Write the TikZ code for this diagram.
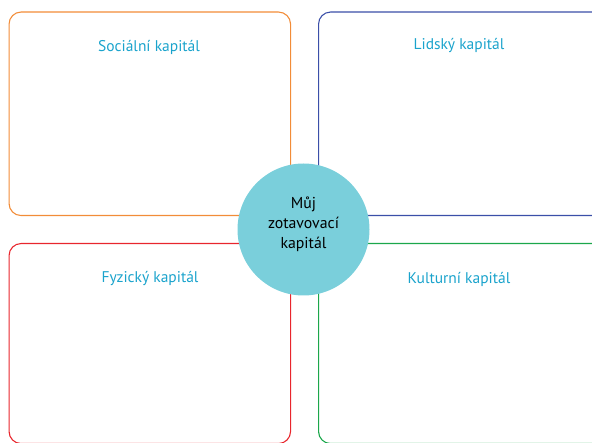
\documentclass[tikz,border=0pt]{standalone}
\usepackage{fontspec}
\setmainfont{PT Sans}
\definecolor{cOrange}{HTML}{F28C38}
\definecolor{cBlue}{HTML}{3B4FA8}
\definecolor{cRed}{HTML}{E8262D}
\definecolor{cGreen}{HTML}{1BA74B}
\definecolor{cTitle}{HTML}{1AA3CC}
\definecolor{cHub}{HTML}{7ACFDB}
\tikzset{
  capbox/.style={draw=#1, line width=1.1pt, rounded corners=12pt, anchor=north west, inner sep=0pt},
  captitle/.style={text=cTitle, font=\fontsize{15.5}{18}\selectfont, anchor=center},
  hub/.style={circle, fill=cHub, minimum size=132pt, inner sep=0pt},
  hubtext/.style={align=center, font=\fontsize{15.8}{20}\selectfont, text=black}
}
\begin{document}
\begin{tikzpicture}[x=1pt, y=-1pt]
\useasboundingbox (0,0) rectangle (592,443);
\clip (0,0) rectangle (592,443);
% four capital quadrants
\node[capbox=cOrange, minimum width=281.5pt, minimum height=203.5pt] (social) at (8.5,11.5) {};
\node[capbox=cBlue,   minimum width=300pt,   minimum height=203.5pt] (human)  at (318,11.5) {};
\node[capbox=cRed,    minimum width=281.5pt, minimum height=200pt]   (physical) at (8.5,243) {};
\node[capbox=cGreen,  minimum width=300pt,   minimum height=200pt]   (cultural) at (318,243) {};
% quadrant titles
\node[captitle] (tSocial)   at (149,47)  {Sociální kapitál};
\node[captitle] (tHuman)    at (459,46)  {Lidský kapitál};
\node[captitle] (tPhysical) at (150,279) {Fyzický kapitál};
\node[captitle] (tCultural) at (459,279) {Kulturní kapitál};
% central hub
\node[hub] (hub) at (303.5,229.5) {};
\node[hubtext] (hubLabel) at (303.5,224) {Můj\\zotavovací\\kapitál};
\end{tikzpicture}
\end{document}
